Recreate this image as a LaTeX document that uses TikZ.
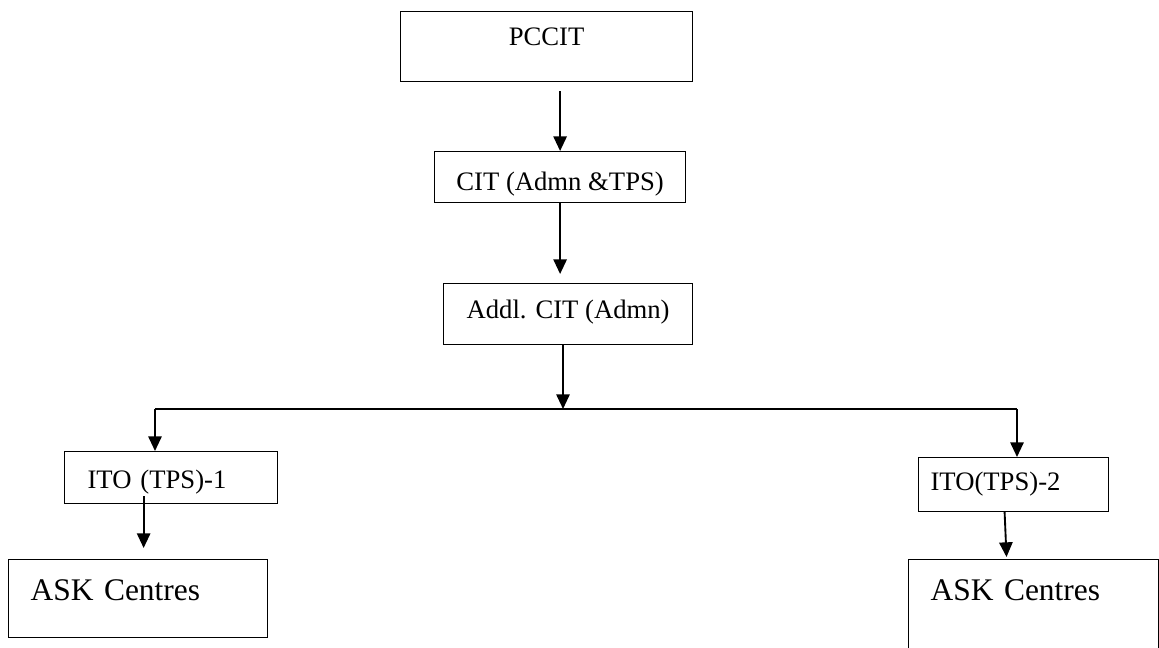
\documentclass[tikz,border=0pt]{standalone}
\usepackage{fontspec}
\setmainfont{Liberation Serif}
\usetikzlibrary{arrows.meta}

\tikzset{
    box/.style={draw, line width=0.9pt, inner sep=0pt, anchor=north west,
        font=\fontsize{20}{24}\selectfont},
    leftbox/.style={box, align=left},
    askbox/.style={leftbox, inner xsep=16.5pt, text height=30.75pt,
        font=\fontsize{23.6}{28}\selectfont},
    arr/.style={-{Triangle[width=10pt,length=11pt]}, line width=1.4pt},
}

\begin{document}
\begin{tikzpicture}[x=0.75pt, y=-0.75pt]
        \clip (0,0) rectangle (1159,648);
        % top of the chart
        \node[box, minimum width=219pt, text height=25.5pt, text depth=27pt] (pccit) at (400,11) {PCCIT};
        \node[box, minimum width=188.25pt, text height=29.25pt, text depth=9pt] (cit) at (434,151) {CIT (Admn \&TPS)};
        \node[box, minimum width=186.75pt, text height=26.25pt, text depth=19.5pt] (addl) at (443,283) {Addl. CIT (Admn)};
        % the two branches
        \node[leftbox, inner xsep=17.25pt, text width=125.25pt, text height=27.75pt, text depth=11.25pt] (ito1) at (64,451) {ITO (TPS)-1};
        \node[leftbox, inner xsep=9pt, text width=124.5pt, text height=24.75pt, text depth=15.75pt] (ito2) at (918,457) {ITO(TPS)-2};
        \node[askbox, text width=161.25pt, text depth=27.75pt] (ask1) at (8,559) {ASK Centres};
        \node[askbox, text width=154.5pt, text depth=90pt] (ask2) at (908,559) {ASK Centres};
        \coordinate (split) at (563,409);
        \coordinate (busL) at (155,409);
        \coordinate (busR) at (1017,409);
        \draw[arr, shorten <=6.75pt] (pccit.south -| cit.north) -- (cit.north);
        \draw[arr, shorten >=6.75pt] (cit.south) -- (cit.south |- addl.north);
        \draw[arr] (addl.south -| split) -- (split);
        \draw[line width=1.4pt] (busL) -- (busR);
        \draw[arr] (busL) -- (busL |- ito1.north);
        \draw[arr] (busR) -- (busR |- ito2.north);
        \draw[arr, shorten >=8.25pt] ([xshift=-20.6pt,yshift=6pt]ito1.south) -- ([xshift=-20.6pt]ito1.south |- ask1.north);
        \draw[arr, shorten >=1.5pt] ([xshift=-6.75pt]ito2.south) -- ([xshift=-20.25pt]ask2.north);
    \end{tikzpicture}
\end{document}
